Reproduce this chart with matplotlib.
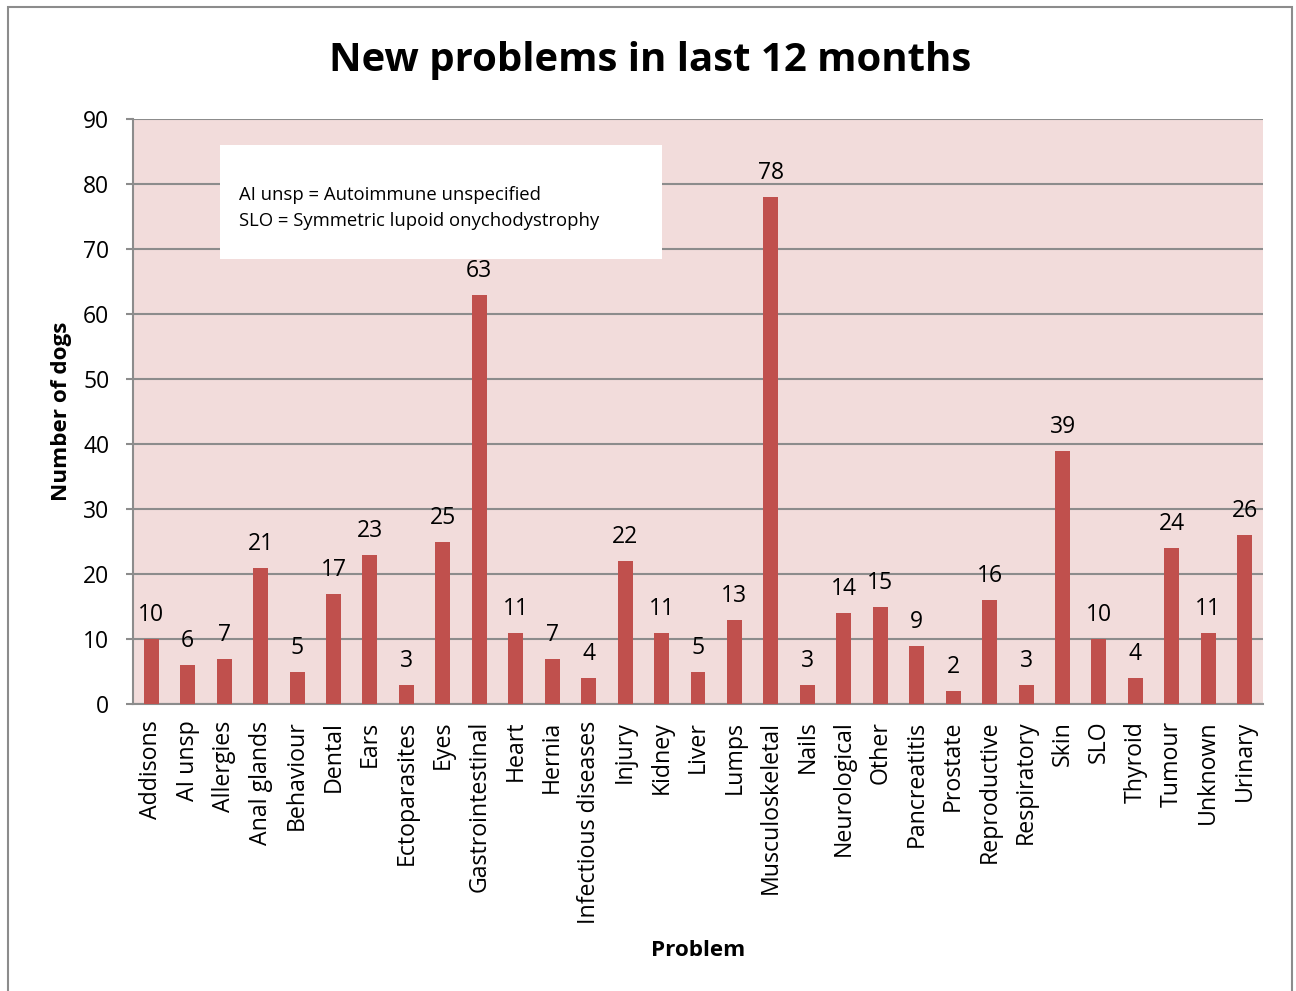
import matplotlib
matplotlib.use("Agg")
import matplotlib.pyplot as plt
from matplotlib.patches import Rectangle

categories = ["Addisons", "AI unsp", "Allergies", "Anal glands", "Behaviour", "Dental", "Ears",
              "Ectoparasites", "Eyes", "Gastrointestinal", "Heart", "Hernia", "Infectious diseases",
              "Injury", "Kidney", "Liver", "Lumps", "Musculoskeletal", "Nails", "Neurological", "Other",
              "Pancreatitis", "Prostate", "Reproductive", "Respiratory", "Skin", "SLO", "Thyroid",
              "Tumour", "Unknown", "Urinary"]
values = [10, 6, 7, 21, 5, 17, 23, 3, 25, 63, 11, 7, 4, 22, 11, 5, 13, 78, 3, 14, 15, 9, 2, 16,
          3, 39, 10, 4, 24, 11, 26]
yticks = [0, 10, 20, 30, 40, 50, 60, 70, 80, 90]

plt.rcParams['font.family'] = ['Open Sans', 'DejaVu Sans']

W, H = 1296, 991
fig = plt.figure(figsize=(W/100, H/100), dpi=100)
fig.patches.append(Rectangle((8/W, -0.01), (1292-8)/W, 1 - 7/H + 0.01, transform=fig.transFigure,
                             fill=False, edgecolor='#8c8c8c', linewidth=1.5))

ax = fig.add_axes([133/W, 1-704/H, (1263-133)/W, (704-119)/H])
ax.set_facecolor('#F2DCDB')
n = len(categories)
x = list(range(n))
bars = ax.bar(x, values, width=0.41, color='#C0504D', zorder=3)
ax.set_xlim(-0.5, n-0.5)
ax.set_ylim(0, 90)
ax.set_yticks(yticks)
ax.yaxis.grid(True, color='#8c8c8c', linewidth=1.5, zorder=1)
ax.set_axisbelow(True)
for s in ['top', 'right']:
    ax.spines[s].set_visible(False)
ax.spines['left'].set_color('#8c8c8c')
ax.spines['left'].set_linewidth(1.5)
ax.spines['bottom'].set_color('#8c8c8c')
ax.spines['bottom'].set_linewidth(1.5)
ax.tick_params(axis='y', length=5, width=1.5, color='#8c8c8c', labelsize=16.5, pad=12)
ax.tick_params(axis='x', length=0, labelsize=16.7, pad=12)
ax.set_xticks(x)
ax.set_xticklabels(categories, rotation=90)

for xi, v in zip(x, values):
    ax.text(xi, v + 1.8, str(v), ha='center', va='bottom', fontsize=16.5)

ax.set_ylabel('Number of dogs', fontsize=16.2, fontweight='bold', labelpad=8)
fig.text(698/W, 1-950/H, 'Problem', ha='center', va='center', fontsize=16.2, fontweight='bold')
fig.text(650/W, 1-61/H, 'New problems in last 12 months', ha='center', va='center',
         fontsize=28.9, fontweight='bold')

fig.patches.append(Rectangle((220/W, 1-259/H), (662-220)/W, (259-145)/H, transform=fig.transFigure,
                             facecolor='white', edgecolor='none', zorder=5))
fig.text(239/W, 1-195/H, 'AI unsp = Autoimmune unspecified', ha='left', va='center', fontsize=13.3, zorder=6)
fig.text(239/W, 1-221/H, 'SLO = Symmetric lupoid onychodystrophy', ha='left', va='center', fontsize=13.3, zorder=6)

fig.savefig('out.png', dpi=100)
